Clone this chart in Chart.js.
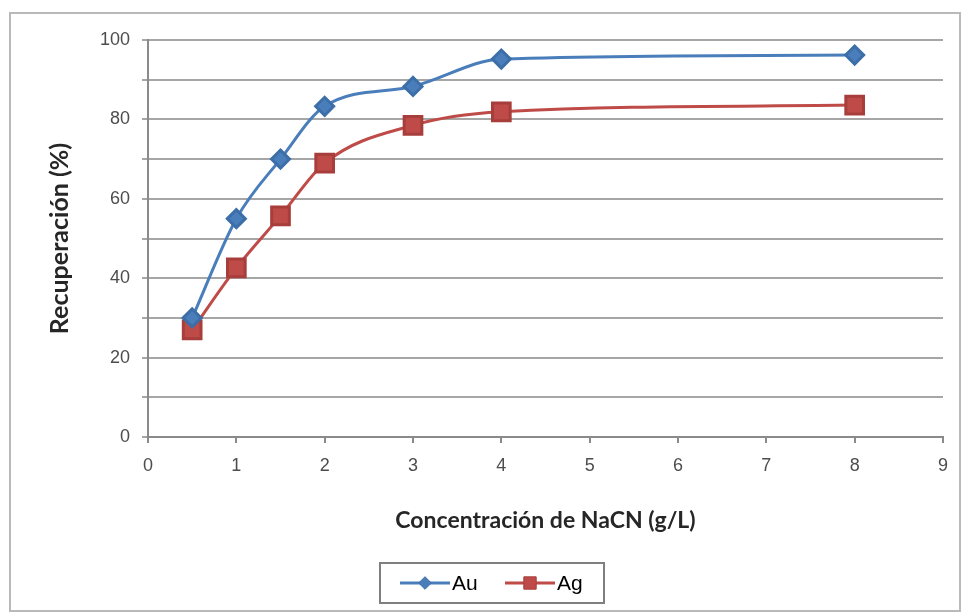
<!DOCTYPE html>
<html>
<head>
<meta charset="utf-8">
<script src="https://cdn.jsdelivr.net/npm/chart.js@4.4.1/dist/chart.umd.min.js"></script>
<style>
  html, body { margin: 0; padding: 0; background: #ffffff; }
  #wrap { width: 964px; height: 615px; position: relative; }
</style>
</head>
<body>
<div id="wrap"><canvas id="c" width="964" height="615"></canvas></div>
<script>
// NaCN concentration (g/L) and recovery (%) for gold and silver
const concentracion = [0.5, 1, 1.5, 2, 3, 4, 8];
const recuperacionAu = [30.0, 55.0, 70.0, 83.3, 88.3, 95.2, 96.2];
const recuperacionAg = [27.0, 42.6, 55.7, 69.0, 78.5, 81.9, 83.6];
const seriesNames = ['Au', 'Ag'];
const xTitle = 'Concentración de NaCN (g/L)';
const yTitle = 'Recuperación (%)';

const BLUE = '#4a7ebb';
const RED = '#be4b48';

const toXY = (xs, ys) => xs.map((x, i) => ({ x: x, y: ys[i] }));

// Outer frame of the chart object
const framePlugin = {
  id: 'frame',
  beforeDraw(chart) {
    const ctx = chart.ctx;
    ctx.save();
    ctx.fillStyle = '#ffffff';
    ctx.fillRect(0, 0, chart.width, chart.height);
    ctx.strokeStyle = '#b9b9b9';
    ctx.lineWidth = 2;
    ctx.strokeRect(10, 13, 950, 598);
    ctx.restore();
  }
};

// Boxed legend with line + marker samples
const boxLegend = {
  id: 'boxLegend',
  afterDraw(chart) {
    const ctx = chart.ctx;
    const ds = chart.data.datasets;
    const box = { x: 380, y: 563, w: 224, h: 40 };
    ctx.save();
    ctx.strokeStyle = '#7f7f7f';
    ctx.lineWidth = 2;
    ctx.strokeRect(box.x, box.y, box.w, box.h);
    const cy = box.y + box.h / 2;
    const starts = [400, 505];
    ctx.font = '21px "Liberation Sans", Arial, sans-serif';
    ctx.textBaseline = 'middle';
    ds.forEach((d, i) => {
      const x0 = starts[i];
      ctx.strokeStyle = d.borderColor;
      ctx.lineWidth = 3;
      ctx.beginPath();
      ctx.moveTo(x0, cy);
      ctx.lineTo(x0 + 50, cy);
      ctx.stroke();
      ctx.fillStyle = d.pointBackgroundColor;
      ctx.strokeStyle = d.pointBorderColor;
      ctx.lineWidth = 1;
      Chart.helpers.drawPoint(ctx, {
        pointStyle: d.pointStyle,
        radius: d.pointRadius * 0.7,
        borderWidth: 1
      }, x0 + 25, cy);
      ctx.fillStyle = '#000000';
      ctx.fillText(d.label, x0 + 52, cy + 1);
    });
    ctx.restore();
  }
};

new Chart(document.getElementById('c'), {
  type: 'line',
  data: {
    datasets: [
      {
        label: seriesNames[0],
        data: toXY(concentracion, recuperacionAu),
        borderColor: BLUE,
        backgroundColor: BLUE,
        pointBackgroundColor: BLUE,
        pointBorderColor: '#3c6ea8',
        pointStyle: 'rectRot',
        pointRadius: 9,
        borderWidth: 3,
        cubicInterpolationMode: 'monotone',
        fill: false
      },
      {
        label: seriesNames[1],
        data: toXY(concentracion, recuperacionAg),
        borderColor: RED,
        backgroundColor: RED,
        pointBackgroundColor: RED,
        pointBorderColor: '#a73e3b',
        pointStyle: 'rect',
        pointRadius: 12.5,
        borderWidth: 3,
        cubicInterpolationMode: 'monotone',
        fill: false
      }
    ]
  },
  options: {
    responsive: false,
    animation: false,
    devicePixelRatio: 1,
    layout: { padding: { top: 40, right: 21, left: 0, bottom: 0 } },
    plugins: {
      legend: { display: false },
      tooltip: { enabled: false }
    },
    scales: {
      x: {
        type: 'linear',
        min: 0,
        max: 9,
        afterFit(scale) { scale.height = 178; },
        ticks: {
          stepSize: 1,
          color: '#4d4d4d',
          padding: 12,
          font: { family: '"Liberation Sans", Arial, sans-serif', size: 18 }
        },
        grid: {
          drawOnChartArea: false,
          drawTicks: true,
          tickLength: 6,
          color: '#8a8a8a',
          lineWidth: 2
        },
        border: { color: '#8a8a8a', width: 2 },
        title: {
          display: true,
          text: xTitle,
          color: '#262626',
          padding: { top: 0, bottom: 81 },
          font: { family: 'Lato, "Open Sans", sans-serif', size: 23, weight: 'bold' }
        }
      },
      y: {
        min: 0,
        max: 100,
        afterFit(scale) { scale.width = 148; },
        ticks: {
          stepSize: 10,
          color: '#4d4d4d',
          padding: 12,
          font: { family: '"Liberation Sans", Arial, sans-serif', size: 18 },
          callback: (v) => (v % 20 === 0 ? v : '')
        },
        grid: {
          drawTicks: true,
          tickLength: 6,
          color: '#a6a6a6',
          lineWidth: 2
        },
        border: { color: '#8a8a8a', width: 2 },
        title: {
          display: true,
          text: yTitle,
          color: '#262626',
          padding: { top: 45, bottom: 0 },
          font: { family: 'Lato, "Open Sans", sans-serif', size: 25, weight: 'bold' }
        }
      }
    }
  },
  plugins: [framePlugin, boxLegend]
});
</script>
</body>
</html>
